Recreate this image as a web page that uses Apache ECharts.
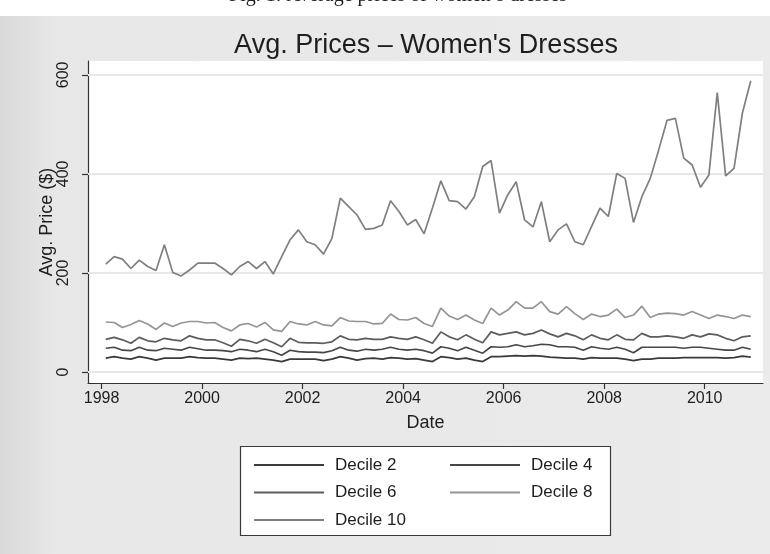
<!DOCTYPE html>
<html>
<head>
<meta charset="utf-8">
<script src="https://cdn.jsdelivr.net/npm/echarts@6/dist/echarts.min.js"></script>
<style>
  html, body { margin: 0; padding: 0; background: #fff; }
  #chart { width: 770px; height: 554px; }
</style>
</head>
<body>
<div id="chart"></div>
<script>
// Bimonthly observation periods (year-month)
const periods = [
  '1998-02','1998-04','1998-06','1998-08','1998-10','1998-12',
  '1999-02','1999-04','1999-06','1999-08','1999-10','1999-12',
  '2000-02','2000-04','2000-06','2000-08','2000-10','2000-12',
  '2001-02','2001-04','2001-06','2001-08','2001-10','2001-12',
  '2002-02','2002-04','2002-06','2002-08','2002-10','2002-12',
  '2003-02','2003-04','2003-06','2003-08','2003-10','2003-12',
  '2004-02','2004-04','2004-06','2004-08','2004-10','2004-12',
  '2005-02','2005-04','2005-06','2005-08','2005-10','2005-12',
  '2006-02','2006-04','2006-06','2006-08','2006-10','2006-12',
  '2007-02','2007-04','2007-06','2007-08','2007-10','2007-12',
  '2008-02','2008-04','2008-06','2008-08','2008-10','2008-12',
  '2009-02','2009-04','2009-06','2009-08','2009-10','2009-12',
  '2010-02','2010-04','2010-06','2010-08','2010-10','2010-12'
];

// Average price ($) per decile
const decile2 = [
  28,31,28,26,31,28,24,28,28,28,31,29,28,28,26,24,28,27,28,26,24,21,26,26,26,26,
  23,26,31,28,24,27,28,26,29,28,26,27,24,21,31,29,26,28,24,21,31,31,32,33,32,33,32,
  30,29,28,28,26,29,28,28,28,26,23,26,26,28,28,28,29,29,29,29,29,28,29,32,30
];
const decile4 = [
  48,50,44,43,50,44,43,48,46,44,50,47,44,44,43,41,46,44,41,46,41,34,44,41,40,40,
  39,43,50,44,42,46,44,46,50,46,44,46,43,38,51,48,43,50,44,38,51,50,51,55,51,53,56,
  55,51,51,50,44,51,48,46,50,46,39,50,50,50,50,50,48,50,50,48,46,44,44,50,46
];
const decile6 = [
  66,70,65,58,70,63,61,68,65,63,73,68,65,65,59,52,66,63,58,66,59,51,68,60,59,59,
  58,61,73,66,65,68,66,66,71,68,66,71,65,58,81,71,65,75,66,59,81,75,78,81,75,78,85,
  77,71,78,73,65,75,68,65,75,66,65,78,71,71,73,71,68,75,71,77,75,68,63,71,73
];
const decile8 = [
  101,100,90,96,104,97,86,99,92,99,102,102,99,100,90,83,95,98,91,100,85,82,102,97,95,102,
  95,93,110,103,102,102,97,98,117,106,105,110,98,92,129,113,106,115,105,98,129,115,125,142,129,129,142,
  122,117,132,118,106,117,112,115,127,110,115,133,110,117,119,118,115,122,115,108,115,112,108,115,112
];
const decile10 = [
  218,233,228,209,226,213,205,257,201,194,206,220,220,220,209,196,213,223,209,223,198,233,267,287,263,257,
  238,270,351,334,317,288,290,297,346,324,297,308,279,331,386,346,344,329,354,415,427,321,358,384,307,293,344,
  263,287,299,263,257,294,331,314,401,391,302,354,391,448,508,512,432,418,373,398,564,396,411,523,588
];

const seriesNames = ['Decile 2', 'Decile 4', 'Decile 6', 'Decile 8', 'Decile 10'];
const seriesValues = [decile2, decile4, decile6, decile8, decile10];
const seriesColors = ['#3a3a3a', '#474747', '#5c5c5c', '#959595', '#7f7f7f'];

const xTicks = [1998, 2000, 2002, 2004, 2006, 2008, 2010];
const yTicks = [0, 200, 400, 600];

const FONT = '"Liberation Sans", Arial, Helvetica, sans-serif';
const TEXT = '#1e1e1e';

// period 'YYYY-MM' -> decimal year
function periodToYear(p) {
  const [y, m] = p.split('-').map(Number);
  return y + (m - 1) / 12;
}

const series = seriesNames.map((name, k) => {
  const s = {
    name: name,
    type: 'line',
    symbol: 'none',
    showSymbol: false,
    animation: false,
    lineStyle: { color: seriesColors[k], width: 1.7 },
    itemStyle: { color: seriesColors[k] },
    data: periods.map((p, i) => [periodToYear(p), seriesValues[k][i]]),
    z: 3
  };
  if (k === 0) {
    // faint horizontal gridlines at labelled y values
    s.markLine = {
      silent: true,
      symbol: 'none',
      animation: false,
      label: { show: false },
      lineStyle: { color: '#e8e8e8', width: 2, type: 'solid' },
      data: yTicks.map(v => ({ yAxis: v })),
      z: 1
    };
  }
  return s;
});

const legendCommon = {
  orient: 'vertical',
  top: 450,
  icon: 'rect',
  itemWidth: 70, itemHeight: 2, itemGap: 7.5,
  textStyle: { fontFamily: FONT, fontSize: 17, color: TEXT, lineHeight: 20, padding: [0, 0, 0, 6] },
  selectedMode: false
};

const chart = echarts.init(document.getElementById('chart'), null, { renderer: 'canvas' });

chart.setOption({
  backgroundColor: '#ffffff',
  animation: false,
  graphic: [
    {
      type: 'rect', z: -20, silent: true,
      shape: { x: 0, y: 16, width: 770, height: 538 },
      style: {
        fill: new echarts.graphic.LinearGradient(0, 0, 1, 0, [
          { offset: 0, color: '#d9d9d9' },
          { offset: 0.07, color: '#e7e7e7' },
          { offset: 1, color: '#ebebeb' }
        ])
      }
    },
    {
      type: 'rect', z: -10, silent: true,
      shape: { x: 88, y: 61, width: 675, height: 322 },
      style: { fill: '#ffffff' }
    },
    {
      type: 'text', z: 5, silent: true,
      x: 398, y: 6,
      style: {
        text: 'Fig. 1: Average prices of women\u2019s dresses',
        font: '20px "Liberation Serif", "Times New Roman", serif',
        fill: '#222', textAlign: 'center', textVerticalAlign: 'bottom'
      }
    },
    {
      type: 'text', z: 5, silent: true,
      x: 426, y: 46,
      style: {
        text: 'Avg. Prices \u2013 Women\'s Dresses',
        font: '27px ' + FONT,
        fill: TEXT, textAlign: 'center', textVerticalAlign: 'middle'
      }
    },
    {
      type: 'rect', z: 1, silent: true,
      shape: { x: 240.5, y: 446.5, width: 370, height: 89 },
      style: { fill: '#ffffff', stroke: '#3a3a3a', lineWidth: 1.2 }
    }
  ],
  grid: { left: 88, right: 7, top: 61, bottom: 171, containLabel: false },
  xAxis: {
    type: 'value',
    min: 1997.73,
    max: 2011.16,
    name: 'Date',
    nameLocation: 'middle',
    nameGap: 31,
    nameMoveOverlap: false,
    nameTextStyle: { fontFamily: FONT, fontSize: 18, color: TEXT },
    axisLine: { show: true, onZero: false, lineStyle: { color: '#333', width: 1.2 } },
    axisTick: { show: true, customValues: xTicks, length: 6, lineStyle: { color: '#333', width: 1.2 } },
    axisLabel: {
      customValues: xTicks, fontFamily: FONT, fontSize: 16, color: TEXT, margin: 8,
      formatter: v => String(v)
    },
    splitLine: { show: false }
  },
  yAxis: {
    type: 'value',
    min: -22.2,
    max: 628,
    name: 'Avg. Price ($)',
    nameLocation: 'middle',
    nameGap: 32,
    nameMoveOverlap: false,
    nameRotate: 90,
    nameTextStyle: { fontFamily: FONT, fontSize: 18, color: TEXT },
    axisLine: { show: true, onZero: false, lineStyle: { color: '#333', width: 1.2 } },
    axisTick: { show: true, customValues: yTicks, length: 6, lineStyle: { color: '#333', width: 1.2 } },
    axisLabel: {
      customValues: yTicks, rotate: 90, fontFamily: FONT, fontSize: 16, color: TEXT, margin: 16,
      formatter: v => String(v)
    },
    splitLine: { show: false }
  },
  legend: [
    Object.assign({}, legendCommon, { data: ['Decile 2', 'Decile 6', 'Decile 10'], left: 249 }),
    Object.assign({}, legendCommon, { data: ['Decile 4', 'Decile 8'], left: 445 })
  ],
  series: series
});
</script>
</body>
</html>
